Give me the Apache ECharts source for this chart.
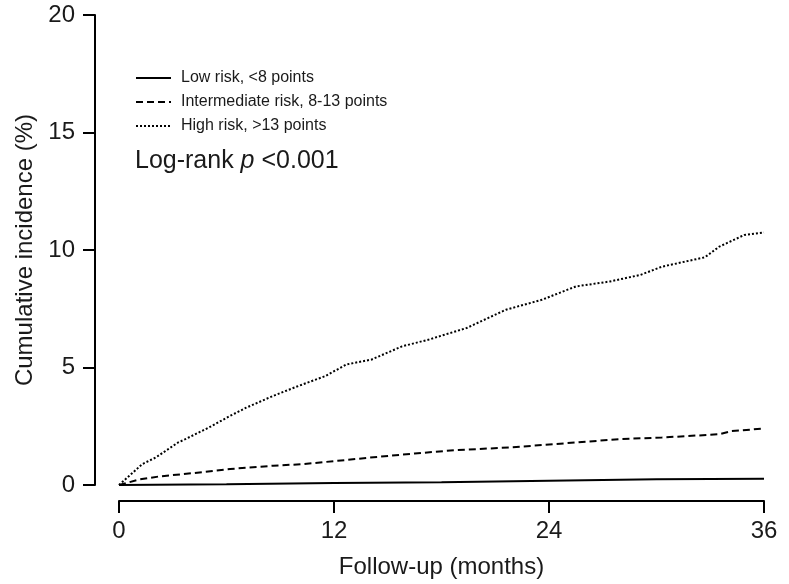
<!DOCTYPE html>
<html>
<head>
<meta charset="utf-8">
<script src="https://cdn.jsdelivr.net/npm/echarts@6/dist/echarts.min.js"></script>
<style>
  html, body { margin: 0; padding: 0; background: #fff; }
  #chart { width: 789px; height: 584px; }
</style>
</head>
<body>
<div id="chart"></div>
<script>
// 读图得到的数据 (months, cumulative incidence %)
var seriesNames = ['Low risk, <8 points', 'Intermediate risk, 8-13 points', 'High risk, >13 points'];
var xTicks = [0, 12, 24, 36];
var yTicks = [0, 5, 10, 15, 20];

var lowRisk = [
  [0, 0], [6, 0.03], [12, 0.08], [18, 0.12], [24, 0.18], [30, 0.24], [36, 0.27]
];
var intermediateRisk = [
  [0, 0], [1.1, 0.23], [2.3, 0.37], [4.2, 0.51], [6.2, 0.68], [8.6, 0.82], [10.3, 0.89],
  [12.2, 1.03], [14.6, 1.21], [16.5, 1.34], [18.7, 1.48], [21.9, 1.6], [23.1, 1.67],
  [25.5, 1.81], [27.9, 1.95], [30.3, 2.02], [33.5, 2.16], [34.2, 2.3], [36, 2.4]
];
var highRisk = [
  [0, 0], [1.3, 0.89], [2.05, 1.17], [3.3, 1.81], [3.7, 1.95], [5.0, 2.44], [6.2, 2.94],
  [7.1, 3.29], [8.6, 3.79], [10.0, 4.21], [11.5, 4.63], [12.7, 5.13], [14.1, 5.34],
  [15.8, 5.9], [17.3, 6.19], [19.4, 6.68], [21.6, 7.46], [23.6, 7.88], [25.5, 8.45],
  [27.4, 8.66], [29.1, 8.94], [30.3, 9.29], [32.7, 9.69], [33.5, 10.14], [34.9, 10.64],
  [36, 10.75]
];

var myChart = echarts.init(document.getElementById('chart'));
var font = 'Liberation Sans, Arial, sans-serif';
var txt = '#1a1a1a';

var option = {
  animation: false,
  backgroundColor: '#fff',
  grid: { left: 119, right: 25, top: 15, bottom: 97 },
  legend: {
    orient: 'vertical',
    left: 130,
    top: 65,
    itemWidth: 35,
    itemHeight: 16,
    itemGap: 8,
    itemStyle: { opacity: 0 },
    textStyle: { fontFamily: font, fontSize: 16, color: txt, padding: [0, 0, 0, 5] },
    data: seriesNames
  },
  xAxis: {
    type: 'value',
    min: 0,
    max: 36,
    interval: 12,
    offset: 16,
    name: 'Follow-up (months)',
    nameLocation: 'middle',
    nameGap: 54,
    nameTextStyle: { fontFamily: font, fontSize: 24, color: txt },
    axisLine: { show: true, onZero: false, lineStyle: { color: '#000', width: 2 } },
    axisTick: { show: true, inside: false, length: 12, lineStyle: { color: '#000', width: 2 } },
    axisLabel: { fontFamily: font, fontSize: 24, color: txt, margin: 18,
      formatter: function (v) { return xTicks.indexOf(v) >= 0 ? v : ''; } },
    splitLine: { show: false }
  },
  yAxis: {
    type: 'value',
    min: 0,
    max: 20,
    interval: 5,
    offset: 24,
    name: 'Cumulative incidence (%)',
    nameLocation: 'middle',
    nameGap: 58,
    nameTextStyle: { fontFamily: font, fontSize: 24, color: txt },
    axisLine: { show: true, onZero: false, lineStyle: { color: '#000', width: 2 } },
    axisTick: { show: true, length: 12, lineStyle: { color: '#000', width: 2 } },
    axisLabel: { fontFamily: font, fontSize: 24, color: txt, margin: 20,
      formatter: function (v) { return yTicks.indexOf(v) >= 0 ? v : ''; } },
    splitLine: { show: false }
  },
  graphic: [{
    type: 'text',
    left: 135,
    top: 149,
    style: {
      text: '{a|Log-rank }{b|p}{a| <0.001}',
      rich: {
        a: { fontFamily: font, fontSize: 25, fill: txt },
        b: { fontFamily: font, fontSize: 25, fontStyle: 'italic', fill: txt }
      }
    }
  }],
  series: [
    {
      name: seriesNames[0], type: 'line', data: lowRisk, symbol: 'none',
      itemStyle: { color: '#000' },
      lineStyle: { color: '#000', width: 2, type: 'solid' }
    },
    {
      name: seriesNames[1], type: 'line', data: intermediateRisk, symbol: 'none',
      itemStyle: { color: '#000' },
      lineStyle: { color: '#000', width: 2, type: [7, 4] }
    },
    {
      name: seriesNames[2], type: 'line', data: highRisk, symbol: 'none',
      itemStyle: { color: '#000' },
      lineStyle: { color: '#000', width: 2, type: [2, 2] }
    }
  ]
};

myChart.setOption(option);
</script>
</body>
</html>
